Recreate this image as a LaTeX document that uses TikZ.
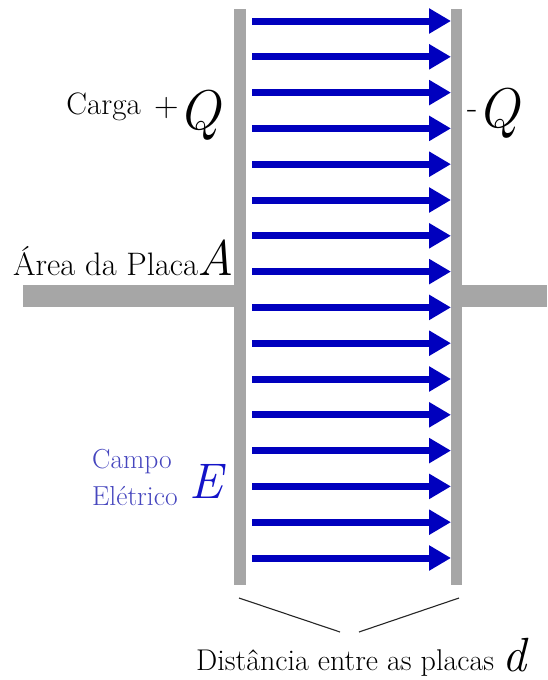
\documentclass[tikz,border=0pt]{standalone}
\usepackage{fontspec}
\usepackage{tikz}
\usetikzlibrary{arrows.meta}
\definecolor{plategray}{RGB}{166,166,166}
\definecolor{fieldblue}{RGB}{0,0,190}
\definecolor{labelblue}{RGB}{70,70,190}
\definecolor{symblue}{RGB}{20,20,200}
\tikzset{
  plate/.style={fill=plategray},
  fieldline/.style={fieldblue,line width=7pt,-{Triangle[length=22pt,width=24pt]}},
  brace/.style={black!85,line width=1.1pt},
  txt/.style={inner sep=0pt,anchor=base west},
  big/.style={txt,font=\fontsize{50}{60}\selectfont\itshape},
}
\newcommand{\signsize}{\fontsize{34}{40}\selectfont\upshape}

\begin{document}
\begin{tikzpicture}[x=1pt,y=-1pt]
  \useasboundingbox (0,0) rectangle (547,680);
  \fill[plate] (234,9) rectangle (246,585);
  \fill[plate] (451,9) rectangle (462,585);
  \fill[plate] (23,285) rectangle (234,307);
  \fill[plate] (462,285) rectangle (547,307);
  \foreach \i in {0,...,15}{
    \pgfmathsetmacro{\yy}{21+\i*35.8}
    \coordinate (s\i) at (252,\yy);
    \coordinate (t\i) at (451,\yy);
    \draw[fieldline] (s\i) -- (t\i);
  }
  \node[txt,anchor=base east,font=\fontsize{31}{36}\selectfont] (carga) at (141,114) {Carga};
  \node[big,font=\fontsize{56}{60}\selectfont\itshape] (plusq) at (154,129) {\raisebox{13pt}{\signsize+}Q};
  \node[big,font=\fontsize{56}{60}\selectfont\itshape] (minusq) at (467,127) {\raisebox{9pt}{\signsize-}Q};
  \node[txt,font=\fontsize{32.5}{38}\selectfont] (area) at (13,275) {Área da Placa};
  \node[big] (areaA) at (197,275) {A};
  \node[txt,labelblue,font=\fontsize{27.5}{33}\selectfont] (campo) at (92,468) {Campo};
  \node[txt,labelblue,font=\fontsize{27.5}{33}\selectfont] (eletrico) at (92,505) {Elétrico};
  \node[big,symblue] (fieldE) at (189,498) {E};
  \node[txt,font=\fontsize{30}{36}\selectfont] (dist) at (196,670) {Distância entre as placas};
  \node[big,font=\fontsize{48}{56}\selectfont\itshape] (dlabel) at (502,671) {d};
  \coordinate (bl) at (239,598);
  \coordinate (bm1) at (340,632);
  \coordinate (bm2) at (359,632);
  \coordinate (br) at (459,598);
  \draw[brace] (bl) -- (bm1);
  \draw[brace] (bm2) -- (br);
\end{tikzpicture}
\end{document}
